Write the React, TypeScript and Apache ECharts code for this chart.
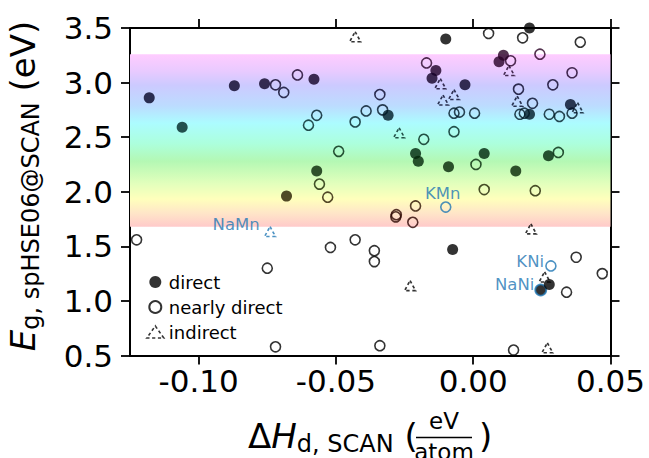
import React, { useEffect, useRef } from "react";
import * as echarts from "echarts";

// ---------- data ----------
const xTicks = [-0.1, -0.05, 0.0, 0.05];
const yTicks = [0.5, 1.0, 1.5, 2.0, 2.5, 3.0, 3.5];
const xRange = [-0.125, 0.05];
const yRange = [0.5, 3.5];
const visibleBand = [1.68, 3.26]; // eV, visible-light window

const directPoints: [number, number][] = [
  [-0.118, 2.86], [-0.106, 2.59], [-0.087, 2.97], [-0.076, 2.99], [-0.058, 3.03],
  [-0.057, 2.19], [-0.068, 1.96], [-0.031, 2.70], [-0.021, 2.35], [-0.020, 2.28],
  [-0.0136, 3.11], [-0.015, 3.04], [-0.010, 3.40], [-0.009, 2.23], [-0.0075, 1.47],
  [-0.003, 2.98], [0.004, 2.35], [0.0094, 3.19], [0.011, 3.25], [0.0155, 2.19],
  [0.0205, 3.50], [0.0205, 2.71], [0.0274, 2.33], [0.0354, 2.80],
];
const directLate: [number, number][] = [[0.0277, 1.15]];

const nearlyDirectPoints: [number, number][] = [
  [-0.072, 2.98], [-0.069, 2.91], [-0.064, 3.07], [-0.057, 2.70], [-0.060, 2.61],
  [-0.043, 2.64], [-0.039, 2.74], [-0.034, 2.89], [-0.033, 2.75], [-0.049, 2.37],
  [-0.056, 2.07], [-0.053, 1.95], [-0.018, 2.48], [-0.017, 3.18], [-0.021, 1.87],
  [-0.028, 1.79], [-0.0282, 1.77], [-0.022, 1.72], [-0.007, 2.55], [-0.007, 2.72],
  [-0.005, 2.73], [0.0005, 2.72], [0.001, 2.25], [0.004, 2.02], [0.0056, 3.45],
  [0.0136, 3.20], [0.0165, 2.94], [0.017, 2.71], [0.0186, 2.72], [0.0216, 2.81],
  [0.018, 3.41], [0.0243, 3.26], [0.0226, 2.01], [0.0277, 2.71], [0.0314, 2.69],
  [0.029, 2.98], [0.031, 2.36], [0.036, 3.09], [0.036, 2.72], [0.039, 3.37],
  [-0.1226, 1.56], [-0.075, 1.30], [-0.072, 0.58], [-0.052, 1.49], [-0.043, 1.56],
  [-0.036, 1.46], [-0.036, 1.36], [-0.034, 0.59], [0.0147, 0.55], [0.034, 1.08],
  [0.0375, 1.40], [0.047, 1.25],
];

const indirectPoints: [number, number][] = [
  [-0.043, 3.42], [-0.012, 2.99], [-0.011, 2.84], [-0.007, 2.89], [-0.027, 2.54],
  [0.013, 3.11], [0.016, 2.83], [0.038, 2.77], [0.021, 1.66], [-0.023, 1.14],
  [0.026, 1.22], [0.027, 0.57],
];

const labelledNames = ["KMn", "NaMn", "KNi", "NaNi"];
const labelledKinds = ["nearly", "indirect", "nearly", "direct"];
const labelledX = [-0.010, -0.074, 0.0283, 0.0246];
const labelledY = [1.86, 1.635, 1.32, 1.10];

// ---------- styling helpers ----------
const BLUE = "#1f77b4";
const FONT = "DejaVu Sans";
const TRI_DASH = [3.2, 2.6];

const markerStops: [number, string][] = [
  [1.68, "#280000"], [1.82, "#2e0a00"], [1.95, "#281a00"], [2.05, "#182400"],
  [2.2, "#062606"], [2.35, "#00260c"], [2.45, "#002616"], [2.55, "#002622"],
  [2.65, "#002026"], [2.75, "#001426"], [2.85, "#040426"], [2.95, "#060426"],
  [3.05, "#140026"], [3.15, "#220026"], [3.26, "#2a0024"],
];
function hexRgb(h: string) {
  return [1, 3, 5].map((i) => parseInt(h.slice(i, i + 2), 16));
}
function darkColor(e: number) {
  if (e < visibleBand[0] || e > visibleBand[1]) return "#000000";
  for (let i = 0; i < markerStops.length - 1; i++) {
    const [e0, c0] = markerStops[i];
    const [e1, c1] = markerStops[i + 1];
    if (e >= e0 && e <= e1) {
      const t = (e - e0) / (e1 - e0);
      const a = hexRgb(c0), b = hexRgb(c1);
      const m = a.map((v, k) => Math.round(v + (b[k] - v) * t));
      return `rgb(${m[0]},${m[1]},${m[2]})`;
    }
  }
  return "#000000";
}

const labelCfg: Record<string, any> = {
  KMn: { position: "top", distance: 1, offset: [-3, 2] },
  NaMn: { position: "left", distance: 4, offset: [0, -7] },
  KNi: { position: "left", distance: 1, offset: [0, -4] },
  NaNi: { position: "left", distance: 0, offset: [0, -6] },
};

function labelledItems(kind: string) {
  const out: any[] = [];
  labelledNames.forEach((n, i) => {
    if (labelledKinds[i] !== kind) return;
    const base: any = {
      value: [labelledX[i], labelledY[i]],
      label: {
        show: true,
        formatter: n,
        color: BLUE,
        fontSize: 16.5,
        fontFamily: FONT,
        ...labelCfg[n],
      },
    };
    if (kind === "direct") base.itemStyle = { color: "#000", borderColor: BLUE, borderWidth: 1.8 };
    else base.itemStyle = { borderColor: BLUE };
    out.push(base);
  });
  return out;
}

export default function App() {
  const ref = useRef<HTMLDivElement>(null);
  useEffect(() => {
    if (!ref.current) return;
    const chart = echarts.init(ref.current, null, { renderer: "svg" });

    const grid = { left: 130, top: 28, width: 480.5, height: 327.5 };
    const axisLine = { show: true, onZero: false, lineStyle: { color: "#000", width: 2 } };
    const tick = { show: true, inside: false, length: 9, lineStyle: { color: "#000", width: 1.8 } };

    const option: any = {
      animation: false,
      grid: { ...grid, containLabel: false },
      xAxis: [
        {
          type: "value", min: xRange[0], max: xRange[1], position: "bottom",
          axisLine, splitLine: { show: false },
          axisTick: { ...tick, customValues: xTicks },
          axisLabel: {
            customValues: xTicks, formatter: (v: number) => v.toFixed(2),
            fontSize: 31, fontFamily: FONT, color: "#000", margin: 10,
          },
        },
        {
          type: "value", min: xRange[0], max: xRange[1], position: "top",
          axisLine, splitLine: { show: false },
          axisTick: { ...tick, customValues: xTicks },
          axisLabel: { show: false },
        },
      ],
      yAxis: [
        {
          type: "value", min: yRange[0], max: yRange[1], interval: 0.5, position: "left",
          axisLine, splitLine: { show: false },
          axisTick: { ...tick, customValues: yTicks },
          axisLabel: {
            customValues: yTicks, formatter: (v: number) => v.toFixed(1),
            fontSize: 31, fontFamily: FONT, color: "#000", margin: 17,
          },
        },
        {
          type: "value", min: yRange[0], max: yRange[1], interval: 0.5, position: "right",
          axisLine, splitLine: { show: false },
          axisTick: { ...tick, customValues: yTicks },
          axisLabel: { show: false },
        },
      ],
      legend: {
        orient: "vertical", left: 141, top: 268, itemWidth: 17, itemHeight: 12, itemGap: 7,
        data: [
          { name: "direct" },
          { name: "nearly direct" },
          {
            name: "indirect",
            itemStyle: { color: "rgba(0,0,0,0)", borderColor: "#000", borderWidth: 1.6, borderType: TRI_DASH },
          },
        ],
        textStyle: { fontSize: 18, fontFamily: FONT, color: "#000", lineHeight: 18 },
        selectedMode: false,
      },
      series: [
        {
          name: "nearly direct", type: "scatter", silent: true,
          symbol: "circle", symbolSize: 10,
          itemStyle: { color: "rgba(0,0,0,0)", borderColor: "#000", borderWidth: 1.6 },
          data: [
            ...nearlyDirectPoints.map((p) => ({ value: p, itemStyle: { borderColor: darkColor(p[1]) } })),
            ...labelledItems("nearly"),
          ],
          markArea: {
            silent: true,
            itemStyle: {
              color: new echarts.graphic.LinearGradient(0, 0, 0, 1, [
                { offset: 0.0, color: "#ffccff" },
                { offset: 0.1, color: "#e8caff" },
                { offset: 0.18, color: "#cccaff" },
                { offset: 0.3, color: "#bcdcff" },
                { offset: 0.4, color: "#acfcff" },
                { offset: 0.52, color: "#acffdc" },
                { offset: 0.62, color: "#b4f8b4" },
                { offset: 0.75, color: "#e2ffbc" },
                { offset: 0.84, color: "#ffffbc" },
                { offset: 0.92, color: "#ffe6c8" },
                { offset: 1.0, color: "#ffcaca" },
              ]),
            },
            data: [[
              { xAxis: xRange[0], yAxis: visibleBand[1] },
              { xAxis: xRange[1], yAxis: visibleBand[0] },
            ]],
          },
        },
        {
          name: "indirect", type: "scatter", silent: true,
          symbol: "triangle", symbolSize: [11, 10],
          itemStyle: {
            color: "rgba(0,0,0,0)", borderColor: "#000", borderWidth: 1.6,
            borderType: TRI_DASH,
          },
          data: [
            ...indirectPoints.map((p) => ({ value: p, itemStyle: { borderColor: darkColor(p[1]) } })),
            ...labelledItems("indirect"),
          ],
        },
        {
          name: "direct", type: "scatter", silent: true,
          symbol: "circle", symbolSize: 11,
          itemStyle: { color: "#000", borderWidth: 0 },
          data: [
            ...directPoints.map((p) => ({ value: p, itemStyle: { color: darkColor(p[1]) } })),
            ...labelledItems("direct"),
            ...directLate.map((p) => ({ value: p, itemStyle: { color: darkColor(p[1]) } })),
          ],
        },
      ],
      graphic: [
        {
          type: "text", x: 248, y: 436,
          style: {
            text: "{m|Δ}{i|H}{s|d, SCAN}{m| (}",
            align: "left", verticalAlign: "middle",
            rich: {
              m: { fontSize: 34, fontFamily: FONT, lineHeight: 40, fill: "#000" },
              i: { fontSize: 34, fontFamily: FONT, fontStyle: "italic", lineHeight: 40, fill: "#000" },
              s: { fontSize: 24, fontFamily: FONT, lineHeight: 24, verticalAlign: "bottom", fill: "#000" },
            },
          },
        },
        {
          type: "text", x: 444, y: 421,
          style: { text: "eV", fontSize: 23, fontFamily: FONT, fill: "#000", align: "center", verticalAlign: "middle" },
        },
        {
          type: "line", shape: { x1: 416, y1: 437.5, x2: 472, y2: 437.5 },
          style: { stroke: "#000", lineWidth: 1.5 },
        },
        {
          type: "text", x: 444, y: 452,
          style: { text: "atom", fontSize: 23, fontFamily: FONT, fill: "#000", align: "center", verticalAlign: "middle" },
        },
        {
          type: "text", x: 479, y: 436,
          style: {
            text: "{m|)}", align: "left", verticalAlign: "middle",
            rich: { m: { fontSize: 34, fontFamily: FONT, lineHeight: 40, fill: "#000" } },
          },
        },
        {
          type: "text", x: 23, y: 186, rotation: Math.PI / 2,
          style: {
            text: "{i|E}{s|g, spHSE06@SCAN}{m| (eV)}",
            align: "center", verticalAlign: "middle",
            rich: {
              m: { fontSize: 34, fontFamily: FONT, lineHeight: 40, fill: "#000" },
              i: { fontSize: 34, fontFamily: FONT, fontStyle: "italic", lineHeight: 40, fill: "#000" },
              s: { fontSize: 24, fontFamily: FONT, lineHeight: 24, verticalAlign: "bottom", fill: "#000" },
            },
          },
        },
      ],
    };
    chart.setOption(option);
    return () => chart.dispose();
  }, []);

  return (
    <div
      ref={ref}
      style={{ position: "fixed", left: 0, top: 0, width: 649, height: 458, background: "#fff" }}
    />
  );
}
